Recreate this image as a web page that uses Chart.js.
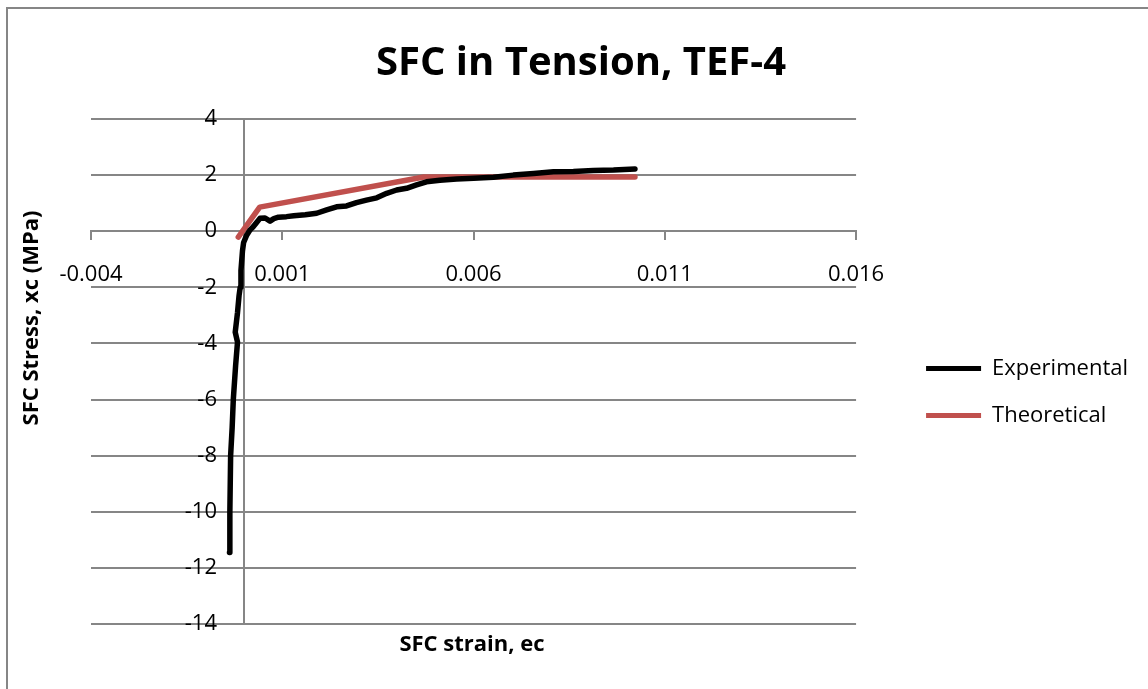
<!DOCTYPE html>
<html>
<head>
<meta charset="utf-8">
<script src="https://cdn.jsdelivr.net/npm/chart.js@4/dist/chart.umd.min.js"></script>
<style>
  html, body { margin: 0; padding: 0; background: #ffffff; }
  #wrap { position: relative; width: 1148px; height: 689px; overflow: hidden; background: #ffffff; }
  #frame { position: absolute; left: 6px; top: 7px; width: 1300px; height: 900px; border: 2px solid #868686; box-sizing: border-box; }
  #c { position: absolute; left: 0; top: 0; }
</style>
</head>
<body>
<div id="wrap">
  <div id="frame"></div>
  <canvas id="c" width="1148" height="689"></canvas>
</div>
<script>
// ---- data ----
const chartTitle = 'SFC in Tension, TEF-4';
const xAxisTitle = 'SFC strain, ec';
const yAxisTitle = 'SFC Stress, xc (MPa)';
const seriesNames = ['Experimental', 'Theoretical'];

const expStrain = [-0.00038, -0.00037, -0.00035, -0.00031, -0.00028, -0.00022, -0.00017, -0.00023, -0.00017, -0.00013,
  -0.00010, -0.00008, -0.00004, -0.00001, 0.00007, 0.00016, 0.00024, 0.00034, 0.00042, 0.00055,
  0.00068, 0.00078, 0.00090, 0.00111, 0.00130, 0.00160, 0.00190, 0.00216, 0.00242, 0.00268,
  0.00294, 0.00320, 0.00347, 0.00373, 0.00399, 0.00425, 0.00451, 0.00477, 0.00512, 0.00556,
  0.00600, 0.00652, 0.00704, 0.00757, 0.00809, 0.00861, 0.00913, 0.00966, 0.01022];
const expStress = [-11.45, -10.0, -8.0, -7.0, -6.0, -4.8, -3.95, -3.6, -2.9, -2.3,
  -2.0, -1.4, -0.7, -0.4, -0.14, 0.05, 0.16, 0.33, 0.46, 0.47,
  0.36, 0.45, 0.50, 0.52, 0.55, 0.59, 0.64, 0.76, 0.87, 0.90,
  1.02, 1.11, 1.19, 1.35, 1.47, 1.53, 1.65, 1.76, 1.82, 1.86,
  1.89, 1.92, 2.00, 2.06, 2.12, 2.13, 2.16, 2.18, 2.22];

const theoStrain = [-0.00015, 0.00041, 0.00470, 0.01022];
const theoStress = [-0.21, 0.86, 1.93, 1.93];

const xTickValues = [-0.004, 0.001, 0.006, 0.011, 0.016];
const yTickValues = [-14, -12, -10, -8, -6, -4, -2, 0, 2, 4];

// ---- build ----
const toPoints = (xs, ys) => xs.map((x, i) => ({ x: x, y: ys[i] }));
const gridGray = '#868686';

const axisTitles = {
  id: 'axisTitles',
  afterDraw(chart) {
    const ctx = chart.ctx;
    ctx.save();
    ctx.fillStyle = '#000000';
    ctx.font = 'bold 22px "Open Sans"';
    ctx.textAlign = 'center';
    ctx.textBaseline = 'middle';
    ctx.fillText(xAxisTitle, 472, 645);
    ctx.translate(32, 318);
    ctx.rotate(-Math.PI / 2);
    ctx.fillText(yAxisTitle, 0, 0);
    ctx.restore();
  }
};

// place legend 45px right of the plot and lower; centre the title at x = 581
const boxPlacement = {
  id: 'boxPlacement',
  afterLayout(chart) {
    const lg = chart.legend;
    const dx = chart.chartArea.right + 45 - lg.left;
    lg.left += dx;
    lg.right += dx;
    lg.top += 56;
    lg.bottom += 56;
    const tb = chart.titleBlock;
    if (tb) {
      const tdx = 581 - (tb.left + tb.right) / 2;
      tb.left += tdx;
      tb.right += tdx;
    }
  }
};

// y tick labels sit 27px left of the y axis (which crosses at x = 0)
const yLabelGap = {
  id: 'yLabelGap',
  beforeDraw(chart) {
    const items = chart.scales.y.getLabelItems();
    items.forEach(it => {
      if (!it._shifted) {
        it.options.translation[0] -= 27;
        it._shifted = true;
      }
    });
  }
};

new Chart(document.getElementById('c'), {
  type: 'scatter',
  data: {
    datasets: [
      {
        label: seriesNames[0],
        data: toPoints(expStrain, expStress),
        showLine: true,
        borderColor: '#000000',
        backgroundColor: '#000000',
        borderWidth: 5.5,
        pointRadius: 0,
        borderCapStyle: 'round',
        borderJoinStyle: 'round',
        xAxisID: 'x',
        yAxisID: 'y'
      },
      {
        label: seriesNames[1],
        data: toPoints(theoStrain, theoStress),
        showLine: true,
        borderColor: '#C0504D',
        backgroundColor: '#C0504D',
        borderWidth: 5.5,
        pointRadius: 0,
        borderCapStyle: 'round',
        borderJoinStyle: 'round',
        xAxisID: 'x',
        yAxisID: 'y'
      }
    ]
  },
  options: {
    responsive: false,
    animation: false,
    events: [],
    layout: { padding: { left: 91, right: 55, top: 8, bottom: 65 } },
    plugins: {
      tooltip: { enabled: false },
      title: {
        display: true,
        text: chartTitle,
        color: '#000000',
        font: { family: '"Open Sans"', size: 40, weight: 'bold', lineHeight: 1.2 },
        padding: { top: 32, bottom: 31 }
      },
      legend: {
        position: 'right',
        align: 'center',
        title: { display: true, text: ' ', font: { size: 10 }, padding: { top: 14, bottom: 14 } },
        labels: {
          color: '#000000',
          font: { family: '"Open Sans"', size: 22 },
          boxWidth: 55,
          boxHeight: 5,
          padding: 25,
          generateLabels(chart) {
            return chart.data.datasets.map((ds, i) => ({
              text: ds.label,
              fillStyle: ds.borderColor,
              strokeStyle: ds.borderColor,
              lineWidth: 0,
              hidden: false,
              datasetIndex: i,
              fontColor: '#000000'
            }));
          }
        }
      }
    },
    scales: {
      x: {
        type: 'linear',
        position: { y: 0 },
        min: -0.004,
        max: 0.016,
        afterBuildTicks(scale) { scale.ticks = xTickValues.map(v => ({ value: v })); },
        ticks: {
          color: '#000000',
          font: { family: '"Open Sans"', size: 22 },
          padding: 22,
          maxRotation: 0,
          autoSkip: false,
          callback: (v) => v.toFixed(3)
        },
        grid: { display: true, drawOnChartArea: false, drawTicks: true, tickLength: 8, color: gridGray, lineWidth: 2 },
        border: { display: true, color: gridGray, width: 2 }
      },
      y: {
        type: 'linear',
        position: { x: 0 },
        min: -14,
        max: 4,
        afterBuildTicks(scale) { scale.ticks = yTickValues.map(v => ({ value: v })); },
        ticks: {
          color: '#000000',
          font: { family: '"Open Sans"', size: 22 },
          autoSkip: false,
          callback: (v) => String(v)
        },
        grid: { display: true, drawOnChartArea: true, drawTicks: false, color: gridGray, lineWidth: 2 },
        border: { display: true, color: gridGray, width: 2 }
      }
    }
  },
  plugins: [axisTitles, boxPlacement, yLabelGap]
});
</script>
</body>
</html>
